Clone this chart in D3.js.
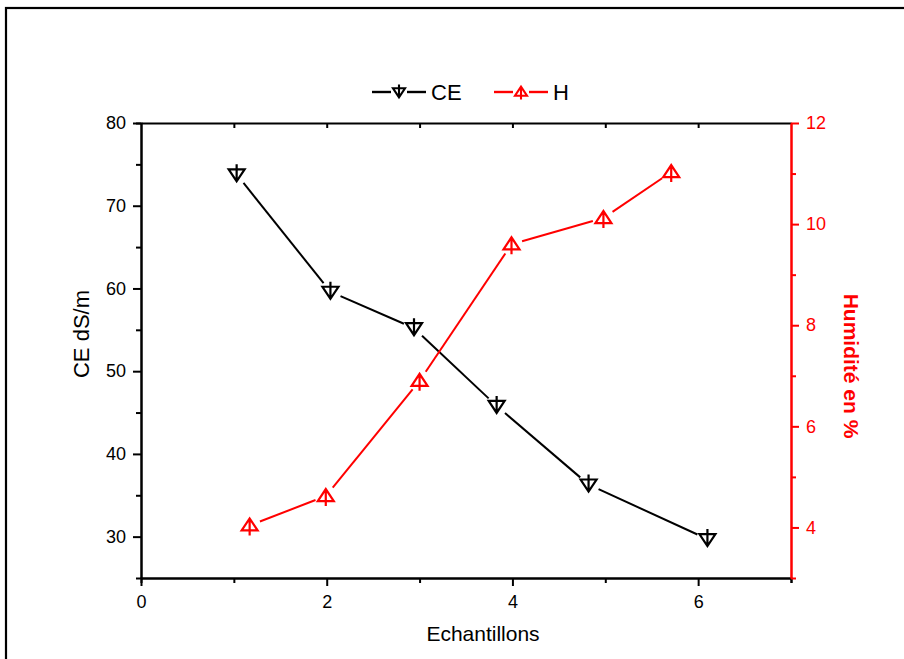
<!DOCTYPE html>
<html>
<head>
<meta charset="utf-8">
<script src="https://cdn.jsdelivr.net/npm/d3@7/dist/d3.min.js"></script>
<style>
  html, body { margin: 0; padding: 0; background: #fff; }
  svg { display: block; font-family: "Liberation Sans", Arial, sans-serif; }
</style>
</head>
<body>
<svg id="chart" width="904" height="659"></svg>
<script>
// Sample positions and measurements
const ceX = [1.03, 2.04, 2.94, 3.83, 4.82, 6.1];
const ceValues = [73.8, 59.6, 55.2, 45.8, 36.3, 29.7];
const hX = [1.17, 1.99, 3.0, 3.99, 4.98, 5.71];
const hValues = [4.04, 4.62, 6.9, 9.6, 10.12, 11.03];

const xTicks = [0, 2, 4, 6];
const ceTicks = [30, 40, 50, 60, 70, 80];
const hTicks = [4, 6, 8, 10, 12];

const RED = "#ff0000";
const svg = d3.select("#chart");

const margin = { left: 141, right: 791, top: 123, bottom: 578 };
const x = d3.scaleLinear().domain([0, 7]).range([margin.left, margin.right]);
const yCE = d3.scaleLinear().domain([25, 80]).range([margin.bottom, margin.top]);
const yH = d3.scaleLinear().domain([3, 12]).range([margin.bottom, margin.top]);

// outer frame
svg.append("rect").attr("x", 6).attr("y", 8).attr("width", 960).attr("height", 700)
  .attr("fill", "none").attr("stroke", "#000").attr("stroke-width", 2.2);

const TICK_FONT = 18;

function styleAxis(g, color) {
  g.attr("font-size", TICK_FONT).attr("font-family", null);
  g.selectAll("path").attr("stroke", color).attr("stroke-width", 2);
  g.selectAll("line").attr("stroke", color).attr("stroke-width", 2);
  g.selectAll("text").attr("fill", color).attr("font-size", TICK_FONT);
}

// minor ticks drawn first, majors on top
svg.append("g").attr("transform", `translate(0,${margin.bottom})`)
  .call(d3.axisBottom(x).tickValues([1, 3, 5, 7]).tickSize(5).tickFormat(""))
  .call(g => styleAxis(g, "#000"));
svg.append("g").attr("transform", `translate(0,${margin.bottom})`)
  .call(d3.axisBottom(x).tickValues(xTicks).tickSizeInner(8).tickSizeOuter(0).tickPadding(9).tickFormat(d3.format("d")))
  .call(g => styleAxis(g, "#000"));

svg.append("g").attr("transform", `translate(0,${margin.top})`)
  .call(d3.axisBottom(x).tickValues([1, 2, 3, 4, 5, 6]).tickSize(5).tickSizeOuter(0).tickFormat(""))
  .call(g => styleAxis(g, "#000"));

svg.append("g").attr("transform", `translate(${margin.left},0)`)
  .call(d3.axisLeft(yCE).tickValues([35, 45, 55, 65, 75]).tickSize(5).tickFormat(""))
  .call(g => styleAxis(g, "#000"));
svg.append("g").attr("transform", `translate(${margin.left},0)`)
  .call(d3.axisLeft(yCE).tickValues(ceTicks).tickSizeInner(8).tickSizeOuter(0).tickPadding(7).tickFormat(d3.format("d")))
  .call(g => styleAxis(g, "#000"));

svg.append("g").attr("transform", `translate(${margin.right},0)`)
  .call(d3.axisRight(yH).tickValues([3, 5, 7, 9, 11]).tickSize(5).tickSizeOuter(0).tickFormat(""))
  .call(g => styleAxis(g, RED));
svg.append("g").attr("transform", `translate(${margin.right},0)`)
  .call(d3.axisRight(yH).tickValues(hTicks).tickSizeInner(8).tickSizeOuter(0).tickPadding(7).tickFormat(d3.format("d")))
  .call(g => styleAxis(g, RED));

// axis titles
svg.append("text").attr("x", 483).attr("y", 641)
  .attr("text-anchor", "middle").style("font-size", "21px").text("Echantillons");
svg.append("text").attr("transform", `translate(89,334) rotate(-90)`)
  .attr("text-anchor", "middle").style("font-size", "22px").text("CE dS/m");
svg.append("text").attr("transform", `translate(844,366) rotate(90)`)
  .attr("text-anchor", "middle").style("font-size", "21px").style("font-weight", "bold")
  .attr("fill", RED).text("Humidité en %");

// markers: triangle with a centre stem
const downMark = "M-8,-5 L8,-5 L0,7 Z M0,-10 L0,6";
const upMark = "M-8,5 L8,5 L0,-7 Z M0,10 L0,-6";

// polyline with gaps next to each marker
function drawSeries(px, py, color, mark, gap) {
  const pts = px.map((d, i) => [d, py[i]]);
  for (let i = 0; i < pts.length - 1; i++) {
    const [x1, y1] = pts[i], [x2, y2] = pts[i + 1];
    const dx = x2 - x1, dy = y2 - y1, len = Math.hypot(dx, dy);
    const ux = dx / len, uy = dy / len;
    svg.append("line")
      .attr("x1", x1 + ux * gap).attr("y1", y1 + uy * gap)
      .attr("x2", x2 - ux * gap).attr("y2", y2 - uy * gap)
      .attr("stroke", color).attr("stroke-width", 2);
  }
  svg.append("g").selectAll("path").data(pts).join("path")
    .attr("transform", d => `translate(${d[0]},${d[1]})`)
    .attr("d", mark).attr("fill", "none").attr("stroke", color)
    .attr("stroke-width", 2.2).attr("stroke-linejoin", "miter");
}

drawSeries(ceX.map(x), ceValues.map(yCE), "#000", downMark, 11);
drawSeries(hX.map(x), hValues.map(yH), RED, upMark, 11);

// legend
const leg = svg.append("g");
function legendItem(x0, color, mark, label) {
  leg.append("line").attr("x1", x0).attr("x2", x0 + 19).attr("y1", 92).attr("y2", 92)
    .attr("stroke", color).attr("stroke-width", 2.4);
  leg.append("line").attr("x1", x0 + 35).attr("x2", x0 + 54).attr("y1", 92).attr("y2", 92)
    .attr("stroke", color).attr("stroke-width", 2.4);
  leg.append("path").attr("transform", `translate(${x0 + 27},92) scale(0.75)`)
    .attr("d", mark).attr("fill", "none").attr("stroke", color).attr("stroke-width", 2.8);
  leg.append("text").attr("x", x0 + 59).attr("y", 100).style("font-size", "22px")
    .attr("fill", "#000").text(label);
}
legendItem(372, "#000", downMark, "CE");
legendItem(494, RED, upMark, "H");
</script>
</body>
</html>
